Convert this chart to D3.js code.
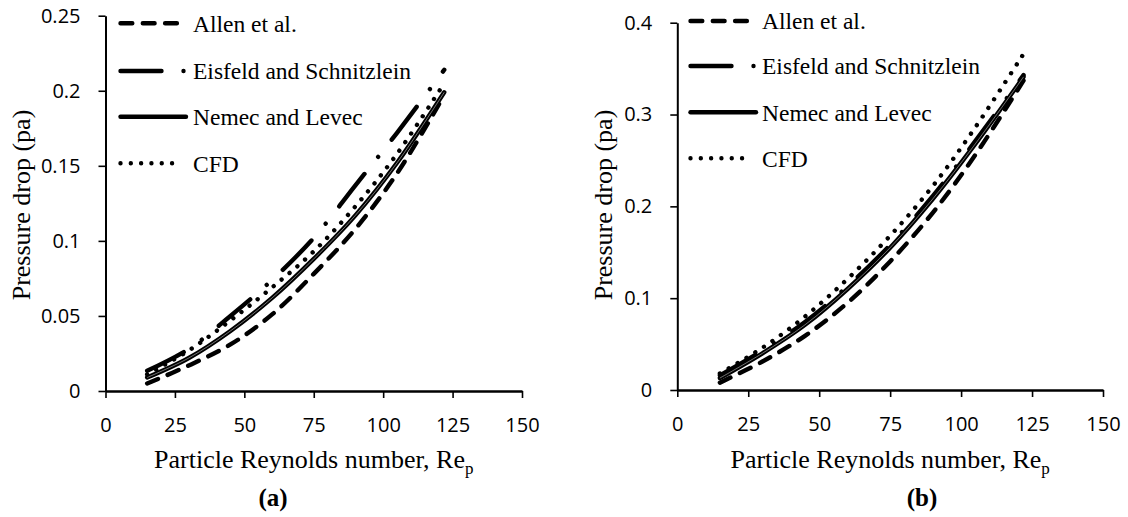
<!DOCTYPE html>
<html>
<head>
<meta charset="utf-8">
<script src="https://cdn.jsdelivr.net/npm/d3@7"></script>
<style>
  html, body { margin: 0; padding: 0; background: #fff; }
  svg { display: block; }
</style>
</head>
<body>
<svg id="chart" width="1128" height="517"></svg>
<script>
// Particle Reynolds number values where pressure drop was evaluated
const reynolds = [15, 30, 45, 60, 75, 90, 105, 122];

// Panel (a): pressure drop (Pa)
const allenA    = [0.005, 0.017, 0.031, 0.051, 0.078, 0.108, 0.145, 0.197];
const eisfeldA  = [0.0135, 0.028, 0.050, 0.074, 0.102, 0.137, 0.172, 0.214];
const nemecA    = [0.009, 0.022, 0.040, 0.062, 0.088, 0.117, 0.152, 0.199];
const cfdA      = [0.011, 0.027, 0.047, 0.069, 0.093, 0.123, 0.158, 0.205];

// Panel (b): pressure drop (Pa)
const allenB    = [0.008, 0.031, 0.059, 0.095, 0.140, 0.193, 0.256, 0.337];
const eisfeldB  = [0.016, 0.043, 0.074, 0.113, 0.158, 0.211, 0.271, 0.343];
const nemecB    = [0.013, 0.040, 0.071, 0.110, 0.155, 0.208, 0.268, 0.341];
const cfdB      = [0.018, 0.046, 0.080, 0.121, 0.168, 0.222, 0.286, 0.366];

const seriesNames = ["Allen et al.", "Eisfeld and Schnitzlein", "Nemec and Levec", "CFD"];

const xTickValues = [0, 25, 50, 75, 100, 125, 150];
const yTickValuesA = [0, 0.05, 0.1, 0.15, 0.2, 0.25];
const yTickLabelsA = ["0", "0.05", "0.1", "0.15", "0.2", "0.25"];
const yTickValuesB = [0, 0.1, 0.2, 0.3, 0.4];
const yTickLabelsB = ["0", "0.1", "0.2", "0.3", "0.4"];

const xTitle = "Particle Reynolds number, Re";
const xTitleSub = "p";
const yTitle = "Pressure drop (pa)";

// Stroke style per series (same order as seriesNames)
const LW = 4.4;
const styles = [
  { dash: "11.8,10.5", sample: 60 },
  { dash: "41,22,0.01,22", sample: 63.2 },
  { dash: null, sample: 65.5 },
  { dash: "0.01,10.3", sample: 60 }
];

const panels = [
  {
    series: [allenA, eisfeldA, nemecA, cfdA],
    xRange: [105.5, 522], yRange: [391, 15.7], yMax: 0.25,
    yTicks: yTickValuesA, yLabels: yTickLabelsA,
    legendX: 120.5, legendY: [23.3, 71, 116.7, 163.3], legendTextX: 193,
    yTitleX: 21, yTitleY: 205, tag: "(a)", tagX: 273
  },
  {
    series: [allenB, eisfeldB, nemecB, cfdB],
    xRange: [677.3, 1103], yRange: [390, 22.7], yMax: 0.4,
    yTicks: yTickValuesB, yLabels: yTickLabelsB,
    legendX: 690.5, legendY: [21, 66, 112.3, 158.3], legendTextX: 762,
    yTitleX: 603, yTitleY: 205, tag: "(b)", tagX: 922
  }
];

const svg = d3.select("#chart");
const serif = "'Liberation Serif', 'Times New Roman', serif";
const sans = "'Open Sans', sans-serif";

panels.forEach(p => {
  const g = svg.append("g");
  const x = d3.scaleLinear().domain([0, 150]).range(p.xRange);
  const y = d3.scaleLinear().domain([0, p.yMax]).range(p.yRange);

  // axes
  const xAxis = g.append("g")
    .attr("transform", `translate(0,${p.yRange[0]})`)
    .call(d3.axisBottom(x).tickValues(xTickValues).tickSize(7).tickSizeOuter(0).tickPadding(20));
  xAxis.select(".domain").attr("stroke", "#000").attr("stroke-width", 2.6);
  xAxis.selectAll(".tick line").attr("stroke", "#000").attr("stroke-width", 1.6);

  const yAxis = g.append("g")
    .attr("transform", `translate(${p.xRange[0]},0)`)
    .call(d3.axisLeft(y).tickValues(p.yTicks)
      .tickFormat((d, i) => p.yLabels[i]).tickSize(7).tickSizeOuter(0).tickPadding(18));
  yAxis.select(".domain").attr("stroke", "#000").attr("stroke-width", 2);
  yAxis.selectAll(".tick line").attr("stroke", "#000").attr("stroke-width", 1.6);

  g.selectAll(".tick text")
    .attr("fill", "#000")
    .style("font-family", sans)
    .style("font-size", "20px");

  // curves
  const line = d3.line()
    .x((d, i) => x(reynolds[i]))
    .y(d => y(d))
    .curve(d3.curveCatmullRom.alpha(0.5));

  p.series.forEach((vals, si) => {
    const path = g.append("path")
      .datum(vals)
      .attr("d", line)
      .attr("fill", "none")
      .attr("stroke", "#000")
      .attr("stroke-width", LW)
      .attr("stroke-linecap", "round")
      .attr("stroke-linejoin", "round");
    if (styles[si].dash) path.attr("stroke-dasharray", styles[si].dash);
    if (si === 2) {
      // fine light seam along the solid line
      g.append("path")
        .datum(vals)
        .attr("d", line)
        .attr("fill", "none")
        .attr("stroke", "#fff")
        .attr("stroke-opacity", 0.75)
        .attr("stroke-width", 0.6);
    }
  });

  // legend
  seriesNames.forEach((name, si) => {
    const ly = p.legendY[si];
    const s = g.append("line")
      .attr("x1", p.legendX).attr("x2", p.legendX + styles[si].sample)
      .attr("y1", ly).attr("y2", ly)
      .attr("stroke", "#000").attr("stroke-width", LW)
      .attr("stroke-linecap", "round");
    if (styles[si].dash) s.attr("stroke-dasharray", styles[si].dash);
    g.append("text")
      .attr("x", p.legendTextX).attr("y", ly)
      .attr("dy", "0.35em")
      .style("font-family", serif).style("font-size", "23.5px")
      .attr("fill", "#000")
      .text(name);
  });

  // axis titles
  const xt = g.append("text")
    .attr("x", (p.xRange[0] + p.xRange[1]) / 2)
    .attr("y", 468)
    .attr("text-anchor", "middle")
    .style("font-family", serif).style("font-size", "26px")
    .attr("fill", "#000");
  xt.append("tspan").text(xTitle);
  xt.append("tspan").attr("dy", 6).style("font-size", "17px").text(xTitleSub);

  g.append("text")
    .attr("transform", `translate(${p.yTitleX},${p.yTitleY}) rotate(-90)`)
    .attr("text-anchor", "middle")
    .attr("dy", "0.35em")
    .style("font-family", serif).style("font-size", "26px")
    .attr("fill", "#000")
    .text(yTitle);

  g.append("text")
    .attr("x", p.tagX).attr("y", 506)
    .attr("text-anchor", "middle")
    .style("font-family", serif).style("font-size", "25px")
    .style("font-weight", "bold")
    .attr("fill", "#000")
    .text(p.tag);
});
</script>
</body>
</html>
